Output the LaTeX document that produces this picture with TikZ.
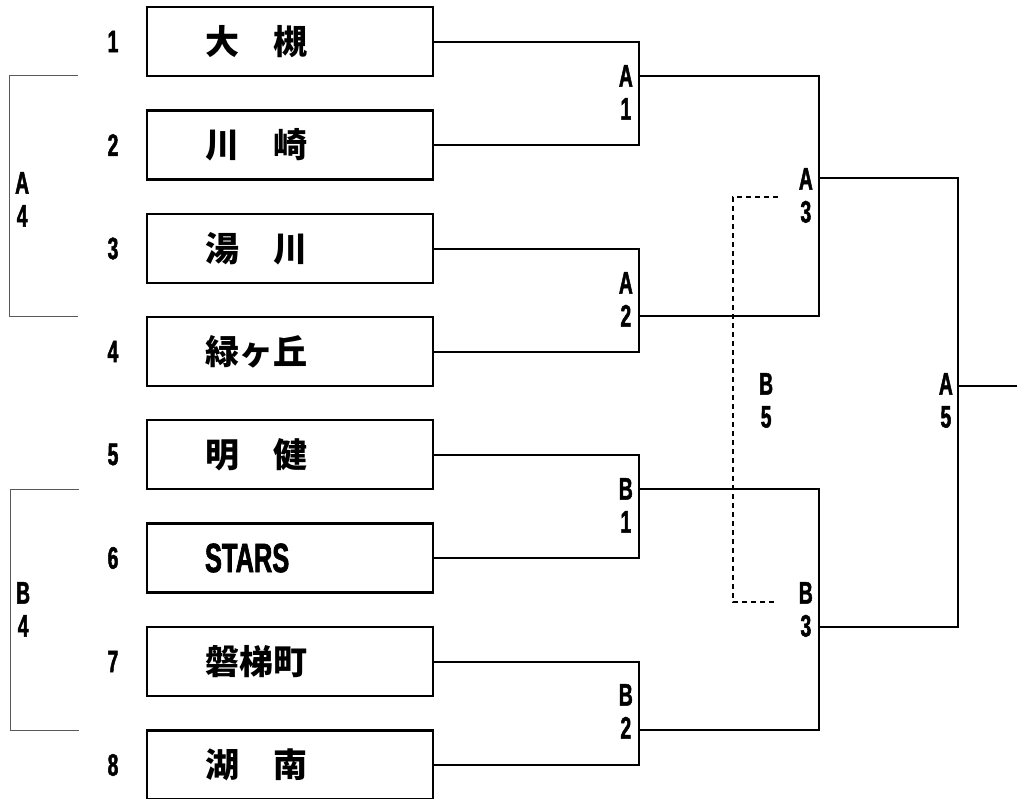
\documentclass[tikz,border=0pt]{standalone}
\usepackage{fontspec}
\newfontfamily\jpfont{Noto Sans CJK JP}
\newfontfamily\narrowfont{Liberation Sans Bold}[FakeStretch=0.62, FakeBold=1.6]
\begin{document}
\begin{tikzpicture}[x=1pt, y=-1pt,
        team/.style={draw, line width=2.2pt, minimum width=286pt, minimum height=69pt, inner xsep=58pt, text width=170pt, align=left, font=\jpfont\bfseries\fontsize{34}{40}\selectfont},
        seed/.style={inner sep=0pt, font=\narrowfont\fontsize{31}{33}\selectfont},
        tag/.style={seed, align=center},
        wire/.style={line width=2pt},
        pool/.style={line width=0.9pt, black!65},
        other/.style={line width=1.3pt, dash pattern=on 5pt off 4pt}]
        \useasboundingbox (0,0) rectangle (1017,798);

        \node (t1) at (290, 41.5) [team] {大　槻};
        \node (t2) at (290,145.0) [team] {川　崎};
        \node (t3) at (290,248.5) [team] {湯　川};
        \node (t4) at (290,351.5) [team] {緑ヶ丘};
        \node (t5) at (290,454.5) [team] {明　健};
        \node (t6) at (290,558.0) [team] {{\narrowfont\fontsize{41}{44}\selectfont STARS}};
        \node (t7) at (290,661.5) [team] {磐梯町};
        \node (t8) at (290,765.0) [team] {湖　南};

        \node (n1) at (113, 41.5) [seed] {1};
        \node (n2) at (113,145.0) [seed] {2};
        \node (n3) at (113,248.5) [seed] {3};
        \node (n4) at (113,351.5) [seed] {4};
        \node (n5) at (113,454.5) [seed] {5};
        \node (n6) at (113,558.0) [seed] {6};
        \node (n7) at (113,661.5) [seed] {7};
        \node (n8) at (113,765.0) [seed] {8};

        \coordinate (A1) at (639, 76);
        \coordinate (A2) at (639,316);
        \coordinate (B1) at (639,489);
        \coordinate (B2) at (639,730);
        \coordinate (A3) at (819,178);
        \coordinate (B3) at (819,627);
        \coordinate (A5) at (958,386);
        \coordinate (win) at (1017,386);

        % first round
        \draw[wire] (t1.east) -| (A1);
        \draw[wire] (t2.east) -| (A1);
        \draw[wire] (t3.east) -| (A2);
        \draw[wire] (t4.east) -| (A2);
        \draw[wire] (t5.east) -| (B1);
        \draw[wire] (t6.east) -| (B1);
        \draw[wire] (t7.east) -| (B2);
        \draw[wire] (t8.east) -| (B2);
        % second round
        \draw[wire] (A1) -| (A3);
        \draw[wire] (A2) -| (A3);
        \draw[wire] (B1) -| (B3);
        \draw[wire] (B2) -| (B3);
        % final
        \draw[wire] (A3) -| (A5);
        \draw[wire] (B3) -| (A5);
        \draw[wire] (A5) -- (win);

        \node (lA1) at (633, 65) [tag, anchor=north east] {A\\1};
        \node (lA2) at (633,272) [tag, anchor=north east] {A\\2};
        \node (lB1) at (633,478) [tag, anchor=north east] {B\\1};
        \node (lB2) at (633,684) [tag, anchor=north east] {B\\2};
        \node (lA3) at (813,168) [tag, anchor=north east] {A\\3};
        \node (lB3) at (813,582) [tag, anchor=north east] {B\\3};
        \node (lA5) at (953,373) [tag, anchor=north east] {A\\5};
        \node (lB5) at (759,373) [tag, anchor=north west] {B\\5};
        \node (lA4) at (15,172) [tag, anchor=north west] {A\\4};
        \node (lB4) at (16,582) [tag, anchor=north west] {B\\4};

        % A4 / B4 brackets
        \draw[pool] (78,75) -- (9,75) -- (9,316) -- (78,316);
        \draw[pool] (79,489) -- (10,489) -- (10,730) -- (79,730);
        % B5
        \draw[other] (778,197) -- (733,197) -- (733,602) -- (775,602);
    \end{tikzpicture}
\end{document}
